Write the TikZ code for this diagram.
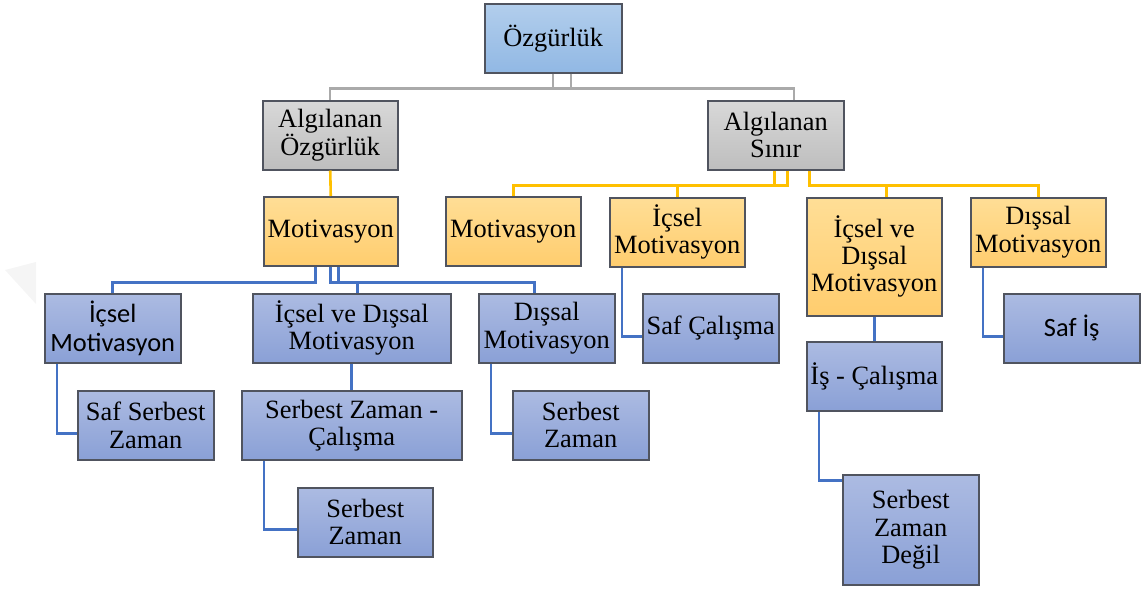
\documentclass[tikz,border=0pt]{standalone}
\usepackage{fontspec}
\setmainfont{Liberation Serif}
\newfontfamily\sansbox{Carlito}
\usetikzlibrary{positioning}

\definecolor{boxline}{RGB}{80,84,95}
\definecolor{linegray}{RGB}{170,170,170}
\definecolor{lineorange}{RGB}{255,192,0}
\definecolor{lineblue}{RGB}{68,114,196}
\definecolor{bluetop}{RGB}{172,187,226}
\definecolor{bluebot}{RGB}{138,160,214}
\definecolor{orangetop}{RGB}{255,222,150}
\definecolor{orangebot}{RGB}{255,205,110}
\definecolor{graytop}{RGB}{216,216,216}
\definecolor{graybot}{RGB}{190,190,190}
\definecolor{skytop}{RGB}{178,206,236}
\definecolor{skybot}{RGB}{145,184,228}

\begin{document}
\begin{tikzpicture}[x=0.5pt, y=-0.5pt,
    box/.style={draw=boxline, line width=0.75pt, align=center, inner sep=0pt,
                anchor=north west, minimum width=68pt, minimum height=34.5pt,
                font=\fontsize{13.2}{13.6}\selectfont},
    skybox/.style={box, top color=skytop, bottom color=skybot},
    graybox/.style={box, top color=graytop, bottom color=graybot},
    orbox/.style={box, top color=orangetop, bottom color=orangebot},
    bluebox/.style={box, top color=bluetop, bottom color=bluebot},
    gline/.style={draw=linegray, line width=1.2pt},
    oline/.style={draw=lineorange, line width=1.3pt},
    bline/.style={draw=lineblue, line width=1.3pt}]
  \useasboundingbox (0,0) rectangle (1142,589);
  % faint mark at the left edge
  \fill[black!4] (5,270) -- (36,262) -- (36,304) -- cycle;

  % top levels
  \node[skybox, minimum width=68.5pt]  (oz)   at (484,3)   {Özgürlük};
  \node[graybox, minimum width=67.5pt] (aoz)  at (262,100) {Algılanan\\ Özgürlük};
  \node[graybox]                       (asin) at (707,100) {Algılanan\\ Sınır};

  % motivation boxes
  \node[orbox, minimum width=67pt]     (motl) at (263,196) {Motivasyon};
  \node[orbox, minimum width=67.5pt]   (motr) at (445,196) {Motivasyon};
  \node[orbox, minimum width=67.5pt]   (icr)  at (609,197) {İçsel\\ Motivasyon};
  \node[orbox, minimum width=67.5pt, minimum height=59pt]
                                       (ivdr) at (806,197) {İçsel ve\\ Dışsal\\ Motivasyon};
  \node[orbox, minimum width=67.5pt]   (disr) at (970,197) {Dışsal\\ Motivasyon};

  % left branch
  \node[bluebox, font=\sansbox\fontsize{13.2}{14.5}\selectfont]
                                       (icl)  at (44,293)  {İçsel\\ Motivasyon};
  \node[bluebox, minimum width=99pt]   (ivdl) at (252,293) {İçsel ve Dışsal\\ Motivasyon};
  \node[bluebox]                       (disl) at (478,293) {Dışsal\\ Motivasyon};
  \node[bluebox]                       (ssz)  at (77,390)  {Saf Serbest\\ Zaman};
  \node[bluebox, minimum width=110pt]  (szc)  at (241,390) {Serbest Zaman -\\ Çalışma};
  \node[bluebox]                       (szl)  at (512,390) {Serbest\\ Zaman};
  \node[bluebox, minimum width=67.5pt] (sz)   at (297,487) {Serbest\\ Zaman};

  % right branch
  \node[bluebox]                       (safc) at (642,293) {Saf Çalışma};
  \node[bluebox, font=\sansbox\fontsize{13.2}{14.5}\selectfont]
                                       (safi) at (1003,293) {Saf İş};
  \node[bluebox, minimum width=67.5pt] (isc)  at (806,341) {İş - Çalışma};
  \node[bluebox, minimum height=55pt]  (szd)  at (842,474) {Serbest\\ Zaman\\ Değil};

  % gray connectors
  \draw[gline] ([xshift=8.75pt]oz.south) -- ++(0,15) -| (aoz.north);
  \draw[gline] (oz.south) -- ++(0,15) -| ([xshift=9pt]asin.north);

  % orange connectors
  \draw[oline] (aoz.south) -- (motl.north);
  \draw[oline] ([xshift=-0.5pt]asin.south) -- ++(0,15) -| (motr.north);
  \draw[oline] ([xshift=6pt]asin.south) -- ++(0,15) -| (icr.north);
  \draw[oline] ([xshift=17pt]asin.south) -- ++(0,15) -| ([xshift=6pt]ivdr.north);
  \draw[oline] ([xshift=17pt]asin.south) -- ++(0,15) -| (disr.north);

  % blue connectors
  \draw[bline] ([xshift=-7.5pt]motl.south) -- ++(0,16) -| (icl.north);
  \draw[bline] (motl.south) -- ++(0,16) -| ([xshift=3pt]ivdl.north);
  \draw[bline] ([xshift=4pt]motl.south) -- ++(0,16) -| ([xshift=-6pt]disl.north);
  \draw[bline] ([xshift=6.5pt]icl.south west) |- ([yshift=-4pt]ssz.west);
  \draw[bline] (ivdl.south) -- (szc.north);
  \draw[bline] ([xshift=11.5pt]szc.south west) |- ([yshift=-3.5pt]sz.west);
  \draw[bline] ([xshift=6.5pt]disl.south west) |- ([yshift=-4pt]szl.west);
  \draw[bline] ([xshift=6.5pt]icr.south west) |- ([yshift=-4pt]safc.west);
  \draw[bline] ([xshift=6.5pt]disr.south west) |- ([yshift=-4pt]safi.west);
  \draw[bline] (ivdr.south) -- (isc.north);
  \draw[bline] ([xshift=6.5pt]isc.south west) |- ([yshift=24.5pt]szd.west);
\end{tikzpicture}
\end{document}
